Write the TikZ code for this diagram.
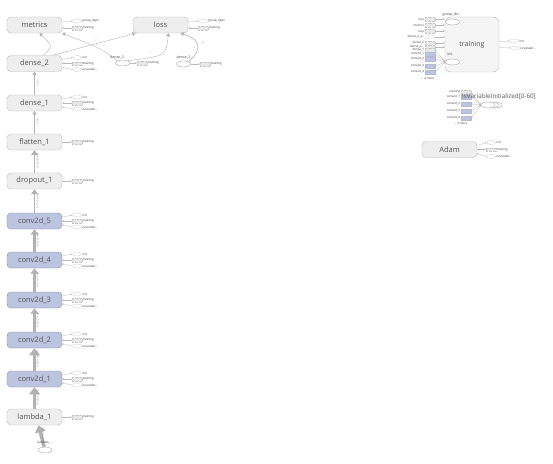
\documentclass[tikz,border=0pt]{standalone}
\usepackage{fontspec}
\setmainfont{Open Sans}
\usetikzlibrary{shapes.geometric,arrows.meta,calc}
\definecolor{nodefill}{RGB}{238,238,238}
\definecolor{nodeline}{RGB}{185,185,185}
\definecolor{convfill}{RGB}{188,196,224}
\definecolor{convline}{RGB}{128,140,178}
\definecolor{edgecol}{RGB}{178,178,178}
\definecolor{txt}{RGB}{85,85,85}
\begin{document}
\begin{tikzpicture}[x=1pt,y=-1pt,
 opnode/.style={rectangle,rounded corners=4pt,draw=nodeline,fill=nodefill,minimum width=55pt,minimum height=16pt,inner sep=0pt,font=\fontsize{7.5}{8}\selectfont,text=txt},
 convnode/.style={opnode,draw=convline,fill=convfill},
 metabox/.style={rectangle,rounded corners=6pt,draw=nodeline,fill=nodefill!60,minimum width=54pt,minimum height=55pt,inner sep=0pt,font=\fontsize{7}{8}\selectfont,text=txt},
 serell/.style={ellipse,draw=gray!70,fill=white,minimum width=14pt,minimum height=6pt,inner sep=0pt,line width=0.4pt},
 auxell/.style={ellipse,draw=gray!55,dash pattern=on 0.8pt off 0.5pt,fill=white,minimum width=9pt,minimum height=4pt,inner sep=0pt,line width=0.3pt},
 auxbox/.style={rectangle,draw=gray!45,densely dotted,fill=gray!18,minimum width=10pt,minimum height=3.6pt,inner sep=0pt,line width=0.3pt},
 auxblue/.style={rectangle,draw=convline!60,fill=convfill,minimum width=10pt,minimum height=3.6pt,inner sep=0pt,line width=0.3pt},
 auxlbl/.style={font=\fontsize{3}{3.5}\selectfont,text=black!80,inner sep=0.6pt,anchor=west},
 inlbl/.style={font=\fontsize{3}{3.5}\selectfont,text=black!80,inner sep=0.6pt,anchor=east},
 auxedge/.style={draw=gray!55,line width=0.3pt,-{Stealth[length=1.6pt,width=1.6pt]}},
 flow/.style={draw=edgecol,-{Triangle[length=2.5pt 1.3,width=3pt 2.2]}},
 elbl/.style={font=\fontsize{2.6}{3}\selectfont,text=gray,rotate=90,inner sep=0.3pt},
]
\useasboundingbox (0,0) rectangle (553,463);

% ---------------- main column ----------------
\node[opnode] (metrics) at (34.5,25) {metrics};
\node[opnode] (loss) at (160.5,25) {loss};
\node[opnode] (dense2) at (34.5,63.5) {dense\_2};
\node[opnode] (dense1) at (34.5,103) {dense\_1};
\node[opnode] (flatten1) at (34.5,142) {flatten\_1};
\node[opnode] (dropout1) at (34.5,181) {dropout\_1};
\node[convnode] (conv5) at (34.5,221) {conv2d\_5};
\node[convnode] (conv4) at (34.5,260) {conv2d\_4};
\node[convnode] (conv3) at (34.5,300) {conv2d\_3};
\node[convnode] (conv2) at (34.5,340) {conv2d\_2};
\node[convnode] (conv1) at (34.5,379) {conv2d\_1};
\node[opnode] (lambda1) at (34.5,417) {lambda\_1};
\node[serell] (lambdain) at (45,450) {};

% main flow edges
\draw[flow,line width=3.5pt] (lambdain) -- ([xshift=4pt]lambda1.south);
\draw[flow,line width=3.5pt] (lambda1) -- (conv1);
\draw[flow,line width=3.5pt] (conv1) -- (conv2);
\draw[flow,line width=2.2pt] (conv2) -- (conv3);
\draw[flow,line width=2.2pt] (conv3) -- (conv4);
\draw[flow,line width=2.2pt] (conv4) -- (conv5);
\draw[flow,line width=1.8pt] (conv5) -- (dropout1);
\draw[flow,line width=1.8pt] (dropout1) -- (flatten1);
\draw[flow,line width=0.6pt] (flatten1) -- (dense1);
\draw[flow,line width=0.6pt] (dense1) -- (dense2);
\node[font=\fontsize{3.2}{3.5}\selectfont,text=black!75] (lambdalbl) at (45,443) {lambda\_...};

% edge labels
\node[elbl] at ($(lambdain.north)!0.5!(lambda1.south)+(3,0)$) {?×160×320×3};
\foreach \a/\b/\t in {lambda1/conv1/{?×160×320×3}, conv1/conv2/{?×78×158×24}, conv2/conv3/{?×37×77×36}, conv3/conv4/{?×17×37×48}, conv4/conv5/{?×15×35×64}, conv5/dropout1/{?×13×33×64}, dropout1/flatten1/{?×13×33×64}, flatten1/dense1/{?×100}, dense1/dense2/{?×50}}{
  \node[elbl] at ($(\a.north)!0.5!(\b.south)+(3.2,0)$) {\t};
}

% aux nodes with three items
\foreach \n/\y in {dense2/63.5, dense1/103, conv5/221, conv4/260, conv3/300, conv2/340, conv1/379}{
  \node[auxell] (\n-i) at (77,\y-6) {};
  \node[auxlbl] at (\n-i.east) {init};
  \node[auxbox] (\n-t) at (77,\y) {};
  \node[auxlbl] at (\n-t.east) {training};
  \node[auxell] (\n-v) at (77,\y+6) {};
  \node[auxlbl] at (\n-v.east) {is/variabl\ldots};
  \draw[auxedge] ([yshift=4pt]\n.east) -- (\n-i.west);
  \draw[auxedge] (\n-t.west) -- (\n.east);
  \draw[auxedge] (\n-v.west) -- ([yshift=-4pt]\n.east);
}
% aux nodes with one item
\foreach \n/\y in {flatten1/142, dropout1/181, lambda1/417}{
  \node[auxbox] (\n-t) at (77,\y) {};
  \node[auxlbl] at (\n-t.east) {training};
  \draw[auxedge] (\n.east) -- (\n-t.west);
}
% metrics / loss aux
\foreach \n/\x in {metrics/77, loss/203}{
  \node[auxell] (\n-g) at (\x,21) {};
  \node[auxlbl] at (\n-g.east) {group\_deps};
  \node[auxbox] (\n-t) at (\x,28) {};
  \node[auxlbl] at (\n-t.east) {training};
  \draw[auxedge] ([yshift=3pt]\n.east) -- (\n-g.west);
  \draw[auxedge] (\n-t.west) -- ([yshift=-3pt]\n.east);
}

% dense_2 auxiliary ellipses
\node[serell] (d2a) at (122.5,63) {};
\node[font=\fontsize{3.6}{4}\selectfont,text=black!70] (d2albl) at (117,57) {dense\_2};
\node[auxbox] (d2a-t) at (142,63) {};
\node[auxlbl] at (d2a-t.east) {training};
\draw[auxedge] (d2a.east) -- (d2a-t.west);
\node[serell] (d2b) at (183.5,64) {};
\node[font=\fontsize{3.6}{4}\selectfont,text=black!70] (d2blbl) at (185,57) {dense\_2...};
\node[auxbox] (d2b-t) at (205,64) {};
\node[auxlbl] at (d2b-t.east) {training};
\draw[auxedge] (d2b.east) -- (d2b-t.west);

% top edges
\draw[flow,line width=0.4pt] ([xshift=9pt]dense2.north) .. controls (53,46) .. ([xshift=5pt]metrics.south);
\draw[flow,line width=0.4pt] ([xshift=18pt]dense2.north) -- ([xshift=-25pt]loss.south);
\draw[flow,line width=0.4pt] (d2a.north west) .. controls (100,48) .. (metrics.south east);
\draw[flow,line width=0.4pt] (d2a.north east) .. controls (166,56) .. ([xshift=8pt]loss.south);
\draw[flow,line width=0.6pt] (d2b.north east) .. controls (206,46) and (196,38) .. ([xshift=20pt]loss.south);
\node[font=\fontsize{2.6}{3}\selectfont,text=gray] at (54,43) {?};
\node[font=\fontsize{2.6}{3}\selectfont,text=gray] at (96,41) {?};
\node[font=\fontsize{2.6}{3}\selectfont,text=gray] at (97,46) {?};
\node[font=\fontsize{2.6}{3}\selectfont,text=gray] at (151,53) {?};
\node[font=\fontsize{2.4}{3}\selectfont,text=gray,rotate=-70] at (203,43) {?×1};

% ---------------- training meta node ----------------
\node[metabox] (training) at (472,44.5) {training};
\node[serell] (tgd) at (452.5,22) {};
\node[font=\fontsize{3.6}{4}\selectfont,text=black!70] (tgdlbl) at (452,14.5) {group\_de...};
\node[serell] (tinit) at (452.5,62) {};
\node[font=\fontsize{3.6}{4}\selectfont,text=black!70,anchor=west,inner sep=0pt] (tinitlbl) at (447,54) {init};

\foreach \k/\lab/\y/\sty in {1/loss/19/auxbox, 2/metrics/25/auxbox, 3/loss/31/auxbox, 4/{dense\_2\_a\ldots}/37/auxell, 5/dense\_2/43/auxbox, 6/{dense\_2\ldots}/47/auxbox}{
  \node[\sty] (tin\k) at (430,\y) {};
  \node[inlbl] at (tin\k.west) {\lab};
  \draw[auxedge] (tin\k.east) -- (tin\k.east -| training.west);
}
\foreach \k/\lab/\y/\sty in {7/dense\_1/50/auxbox, 8/conv2d\_1/54/auxblue, 9/conv2d\_2/59/auxblue, 10/conv2d\_3/66/auxblue, 11/conv2d\_4/72/auxblue}{
  \node[\sty] (tin\k) at (430,\y) {};
  \node[inlbl] at (tin\k.west) {\lab};
  \draw[auxedge] (tin\k.east) -- (tinit.west);
}
\node[inlbl] (tmore) at (435,78) {... 4 more};

\node[auxell] (tout1) at (514,41) {};
\node[auxlbl] at (tout1.east) {init};
\node[auxell] (tout2) at (515,48) {};
\node[auxlbl] at (tout2.east) {is/variabl...};
\draw[auxedge] ([yshift=3pt]training.east) -- (tout1.west);
\draw[auxedge] ([yshift=-3pt]training.east) -- (tout2.west);

% ---------------- IsVariableInitialized ----------------
\node[serell] (iv1) at (495,105) {};
\node[serell] (iv2) at (491.5,105) {};
\node[serell] (iv3) at (488,105) {};
\foreach \k/\lab/\y/\sty in {1/training/92/auxbox, 2/conv2d\_1/97/auxblue, 3/conv2d\_2/104/auxblue, 4/conv2d\_3/111/auxblue, 5/conv2d\_4/118/auxblue}{
  \node[\sty] (ivin\k) at (466,\y) {};
  \node[inlbl] at (ivin\k.west) {\lab};
  \draw[auxedge] (ivin\k.east) -- (iv3.west);
}
\node[inlbl] (ivmore) at (468,123) {... 4 more};
\node[font=\fontsize{6.3}{7}\selectfont,text=txt,anchor=west,inner sep=0.5pt] (ivlbl) at (461.5,97) {IsVariableInitialized[0-60]};

% ---------------- Adam ----------------
\node[opnode] (adam) at (449.5,149.5) {Adam};
\node[auxell] (adam-i) at (491,142.5) {};
\node[auxlbl] at (adam-i.east) {init};
\node[auxbox] (adam-t) at (491,149.5) {};
\node[auxlbl] at (adam-t.east) {training};
\node[auxell] (adam-v) at (491,156.5) {};
\node[auxlbl] at (adam-v.east) {is/variabl...};
\draw[auxedge] ([yshift=4pt]adam.east) -- (adam-i.west);
\draw[auxedge] (adam-t.west) -- (adam.east);
\draw[auxedge] (adam-v.west) -- ([yshift=-4pt]adam.east);
\end{tikzpicture}
\end{document}
